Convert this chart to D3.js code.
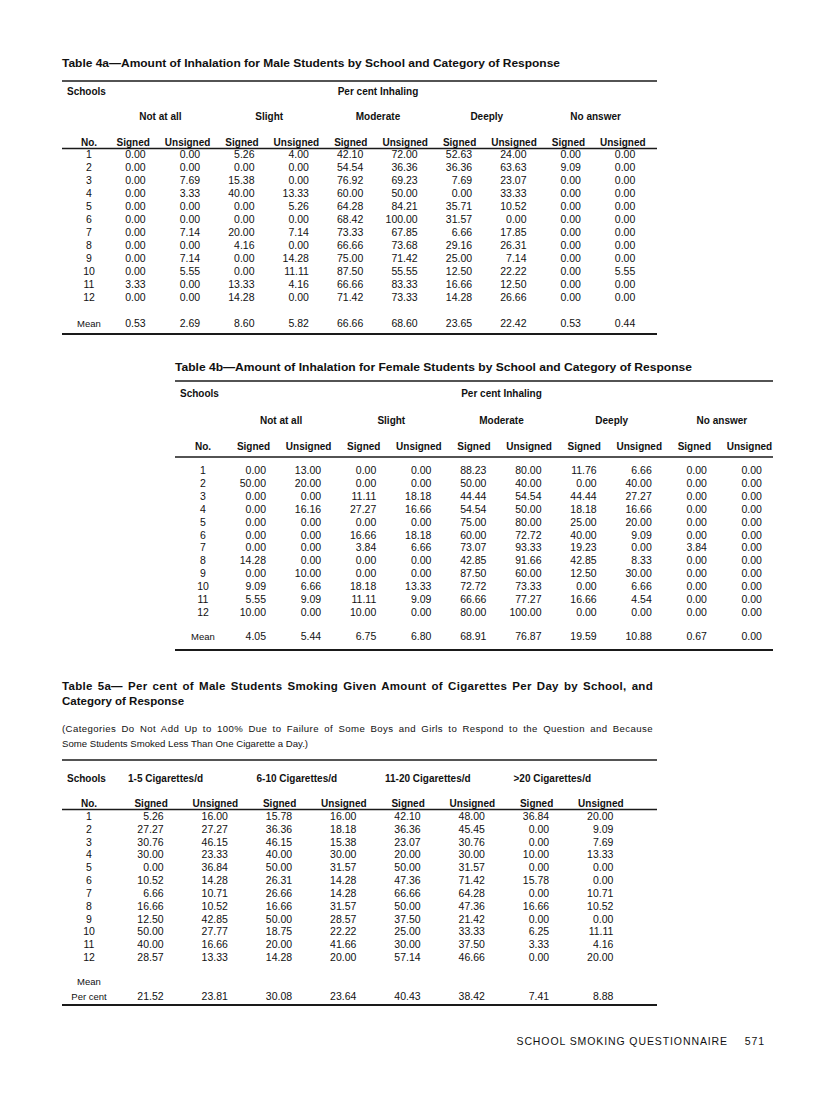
<!DOCTYPE html>
<html>
<head>
<meta charset="utf-8">
<script src="https://cdn.jsdelivr.net/npm/d3@7"></script>
<style>
  body { margin: 0; background: #fff; }
  svg { display: block; font-family: 'Liberation Sans', Arial, sans-serif; fill: #111; }
  .title { font-weight: bold; font-size: 11.5px; }
  .note { font-size: 9.6px; }
  .head { font-weight: bold; font-size: 10px; }
  .cell { font-size: 10.5px; }
  .small { font-size: 9.5px; }
  .rule { stroke: #1a1a1a; }
  .footer { font-size: 10.5px; letter-spacing: 0.9px; }
</style>
</head>
<body>
<div id="page"></div>
<script>
// ---- data ----
const schools = [1, 2, 3, 4, 5, 6, 7, 8, 9, 10, 11, 12];
const responseSub = ['Signed', 'Unsigned'];
const inhalationCategories = ['Not at all', 'Slight', 'Moderate', 'Deeply', 'No answer'];
const cigaretteCategories = ['1-5 Cigarettes/d', '6-10 Cigarettes/d', '11-20 Cigarettes/d', '>20 Cigarettes/d'];

// Table 4a: male inhalation, per school: [notAll S, U, slight S, U, moderate S, U, deeply S, U, noAns S, U]
const maleInhalation = [
  [0.00, 0.00, 5.26, 4.00, 42.10, 72.00, 52.63, 24.00, 0.00, 0.00],
  [0.00, 0.00, 0.00, 0.00, 54.54, 36.36, 36.36, 63.63, 9.09, 0.00],
  [0.00, 7.69, 15.38, 0.00, 76.92, 69.23, 7.69, 23.07, 0.00, 0.00],
  [0.00, 3.33, 40.00, 13.33, 60.00, 50.00, 0.00, 33.33, 0.00, 0.00],
  [0.00, 0.00, 0.00, 5.26, 64.28, 84.21, 35.71, 10.52, 0.00, 0.00],
  [0.00, 0.00, 0.00, 0.00, 68.42, 100.00, 31.57, 0.00, 0.00, 0.00],
  [0.00, 7.14, 20.00, 7.14, 73.33, 67.85, 6.66, 17.85, 0.00, 0.00],
  [0.00, 0.00, 4.16, 0.00, 66.66, 73.68, 29.16, 26.31, 0.00, 0.00],
  [0.00, 7.14, 0.00, 14.28, 75.00, 71.42, 25.00, 7.14, 0.00, 0.00],
  [0.00, 5.55, 0.00, 11.11, 87.50, 55.55, 12.50, 22.22, 0.00, 5.55],
  [3.33, 0.00, 13.33, 4.16, 66.66, 83.33, 16.66, 12.50, 0.00, 0.00],
  [0.00, 0.00, 14.28, 0.00, 71.42, 73.33, 14.28, 26.66, 0.00, 0.00]
];
const maleInhalationMean = [0.53, 2.69, 8.60, 5.82, 66.66, 68.60, 23.65, 22.42, 0.53, 0.44];

// Table 4b: female inhalation
const femaleInhalation = [
  [0.00, 13.00, 0.00, 0.00, 88.23, 80.00, 11.76, 6.66, 0.00, 0.00],
  [50.00, 20.00, 0.00, 0.00, 50.00, 40.00, 0.00, 40.00, 0.00, 0.00],
  [0.00, 0.00, 11.11, 18.18, 44.44, 54.54, 44.44, 27.27, 0.00, 0.00],
  [0.00, 16.16, 27.27, 16.66, 54.54, 50.00, 18.18, 16.66, 0.00, 0.00],
  [0.00, 0.00, 0.00, 0.00, 75.00, 80.00, 25.00, 20.00, 0.00, 0.00],
  [0.00, 0.00, 16.66, 18.18, 60.00, 72.72, 40.00, 9.09, 0.00, 0.00],
  [0.00, 0.00, 3.84, 6.66, 73.07, 93.33, 19.23, 0.00, 3.84, 0.00],
  [14.28, 0.00, 0.00, 0.00, 42.85, 91.66, 42.85, 8.33, 0.00, 0.00],
  [0.00, 10.00, 0.00, 0.00, 87.50, 60.00, 12.50, 30.00, 0.00, 0.00],
  [9.09, 6.66, 18.18, 13.33, 72.72, 73.33, 0.00, 6.66, 0.00, 0.00],
  [5.55, 9.09, 11.11, 9.09, 66.66, 77.27, 16.66, 4.54, 0.00, 0.00],
  [10.00, 0.00, 10.00, 0.00, 80.00, 100.00, 0.00, 0.00, 0.00, 0.00]
];
const femaleInhalationMean = [4.05, 5.44, 6.75, 6.80, 68.91, 76.87, 19.59, 10.88, 0.67, 0.00];

// Table 5a: male cigarettes per day
const maleCigarettes = [
  [5.26, 16.00, 15.78, 16.00, 42.10, 48.00, 36.84, 20.00],
  [27.27, 27.27, 36.36, 18.18, 36.36, 45.45, 0.00, 9.09],
  [30.76, 46.15, 46.15, 15.38, 23.07, 30.76, 0.00, 7.69],
  [30.00, 23.33, 40.00, 30.00, 20.00, 30.00, 10.00, 13.33],
  [0.00, 36.84, 50.00, 31.57, 50.00, 31.57, 0.00, 0.00],
  [10.52, 14.28, 26.31, 14.28, 47.36, 71.42, 15.78, 0.00],
  [6.66, 10.71, 26.66, 14.28, 66.66, 64.28, 0.00, 10.71],
  [16.66, 10.52, 16.66, 31.57, 50.00, 47.36, 16.66, 10.52],
  [12.50, 42.85, 50.00, 28.57, 37.50, 21.42, 0.00, 0.00],
  [50.00, 27.77, 18.75, 22.22, 25.00, 33.33, 6.25, 11.11],
  [40.00, 16.66, 20.00, 41.66, 30.00, 37.50, 3.33, 4.16],
  [28.57, 13.33, 14.28, 20.00, 57.14, 46.66, 0.00, 20.00]
];
const maleCigarettesMean = [21.52, 23.81, 30.08, 23.64, 40.43, 38.42, 7.41, 8.88];

const fmt = d3.format('.2f');

const svg = d3.select('#page').append('svg')
    .attr('width', 816)
    .attr('height', 1096);

svg.append('rect').attr('width', 816).attr('height', 1096).attr('fill', '#fff');

function rule(x1, x2, y, w) {
    svg.append('line')
        .attr('class', 'rule')
        .attr('x1', x1).attr('x2', x2)
        .attr('y1', y).attr('y2', y)
        .attr('stroke-width', w || 1.4);
}

function text(cls, x, y, str, anchor, fit) {
    const t = svg.append('text')
        .attr('class', cls)
        .attr('x', x).attr('y', y)
        .attr('text-anchor', anchor || 'start')
        .text(str);
    if (fit) t.attr('textLength', fit).attr('lengthAdjust', 'spacingAndGlyphs');
    return t;
}

// justified line: half the slack goes to word gaps, half to letters
function justified(cls, x, y, str, width) {
    const t = text(cls, x, y, str);
    const gaps = str.split(' ').length - 1;
    const slack = width - t.node().getComputedTextLength();
    if (gaps > 0 && slack > 0) {
        t.attr('letter-spacing', (slack / 2) / str.length)
         .attr('word-spacing', (slack / 2) / gaps);
    }
    return t;
}

// draws one school-by-category table
function drawTable(o) {
    const group = d3.scaleBand().domain(o.categories).range(o.groupRange);
    const sub = d3.scaleBand().domain(responseSub).range([0, group.bandwidth()]);
    const colX = (j) => group(o.categories[Math.floor(j / 2)]) + sub(responseSub[j % 2]) + sub.bandwidth() / 2;
    const y = d3.scalePoint().domain(schools).range(o.rowRange);
    const cols = d3.range(o.categories.length * 2);

    rule(o.left, o.right, o.topRule, 1.5);
    text('head', o.schoolsX, o.schoolsY, 'Schools');
    if (o.spanLabel) {
        text('head', d3.mean(o.groupRange), o.schoolsY, o.spanLabel, 'middle');
    }

    // category labels
    svg.append('g').selectAll('text')
        .data(o.categories)
        .join('text')
        .attr('class', 'head')
        .attr('x', (d) => o.catAnchor === 'start' ? group(d) + o.catOffset : group(d) + group.bandwidth() / 2)
        .attr('y', o.catY)
        .attr('text-anchor', o.catAnchor || 'middle')
        .text((d) => d);

    // sub header row
    text('head', o.noX, o.subY, 'No.', 'middle');
    svg.append('g').selectAll('text')
        .data(cols)
        .join('text')
        .attr('class', 'head')
        .attr('x', (j) => colX(j))
        .attr('y', o.subY)
        .attr('text-anchor', 'middle')
        .text((j) => responseSub[j % 2]);
    rule(o.left, o.right, o.subRule, 1.3);

    // body rows
    const rows = svg.append('g').selectAll('g')
        .data(o.rows)
        .join('g')
        .attr('transform', (d, i) => `translate(0,${y(schools[i])})`);
    rows.append('text')
        .attr('class', 'cell')
        .attr('x', o.noX)
        .attr('text-anchor', 'middle')
        .text((d, i) => schools[i]);
    rows.selectAll('text.v')
        .data((d) => d)
        .join('text')
        .attr('class', 'cell v')
        .attr('x', (d, j) => colX(j) + o.numShift)
        .attr('text-anchor', 'end')
        .text((d) => fmt(d));

    // mean row
    o.meanLabels.forEach((m) => text('small', o.noX, m.y, m.label, 'middle'));
    svg.append('g').selectAll('text')
        .data(o.mean)
        .join('text')
        .attr('class', 'cell')
        .attr('x', (d, j) => colX(j) + o.numShift)
        .attr('y', o.meanY)
        .attr('text-anchor', 'end')
        .text((d) => fmt(d));

    rule(o.left, o.right, o.bottomRule, 1.8);
}

// ---- Table 4a ----
text('title', 62, 67, 'Table 4a\u2014Amount of Inhalation for Male Students by School and Category of Response', 'start', 498);
drawTable({
    categories: inhalationCategories,
    groupRange: [106, 650],
    left: 62, right: 657,
    topRule: 81, schoolsX: 67, schoolsY: 94.5, spanLabel: 'Per cent Inhaling',
    catY: 119.5, subY: 145.5, subRule: 148.5, noX: 89,
    rows: maleInhalation, rowRange: [158, 301], numShift: 12.5,
    mean: maleInhalationMean, meanY: 327, meanLabels: [{label: 'Mean', y: 327}],
    bottomRule: 334
});

// ---- Table 4b ----
text('title', 175, 371, 'Table 4b\u2014Amount of Inhalation for Female Students by School and Category of Response', 'start', 517);
drawTable({
    categories: inhalationCategories,
    groupRange: [226, 777],
    left: 175, right: 773,
    topRule: 381, schoolsX: 180, schoolsY: 397, spanLabel: 'Per cent Inhaling',
    catY: 424, subY: 450, subRule: 457, noX: 203,
    rows: femaleInhalation, rowRange: [474, 616], numShift: 12.5,
    mean: femaleInhalationMean, meanY: 640, meanLabels: [{label: 'Mean', y: 640}],
    bottomRule: 650
});

// ---- Table 5a ----
justified('title', 62, 690, 'Table 5a\u2014 Per cent of Male Students Smoking Given Amount of Cigarettes Per Day by School, and', 591);
text('title', 62, 705, 'Category of Response');
justified('note', 62, 731.5, '(Categories Do Not Add Up to 100% Due to Failure of Some Boys and Girls to Respond to the Question and Because', 591);
text('note', 62, 746.5, 'Some Students Smoked Less Than One Cigarette a Day.)');
drawTable({
    categories: cigaretteCategories,
    groupRange: [119, 633],
    left: 62, right: 657,
    topRule: 760, schoolsX: 67, schoolsY: 782, spanLabel: null,
    catY: 782, catAnchor: 'start', catOffset: 9,
    subY: 806.5, subRule: 809.5, noX: 89,
    rows: maleCigarettes, rowRange: [820, 961], numShift: 12.5,
    mean: maleCigarettesMean, meanY: 999.5,
    meanLabels: [{label: 'Mean', y: 984.5}, {label: 'Per cent', y: 999.5}],
    bottomRule: 1005
});

// ---- running footer ----
text('footer', 728, 1045, 'SCHOOL SMOKING QUESTIONNAIRE', 'end');
text('footer', 765, 1045, '571', 'end');
</script>
</body>
</html>
